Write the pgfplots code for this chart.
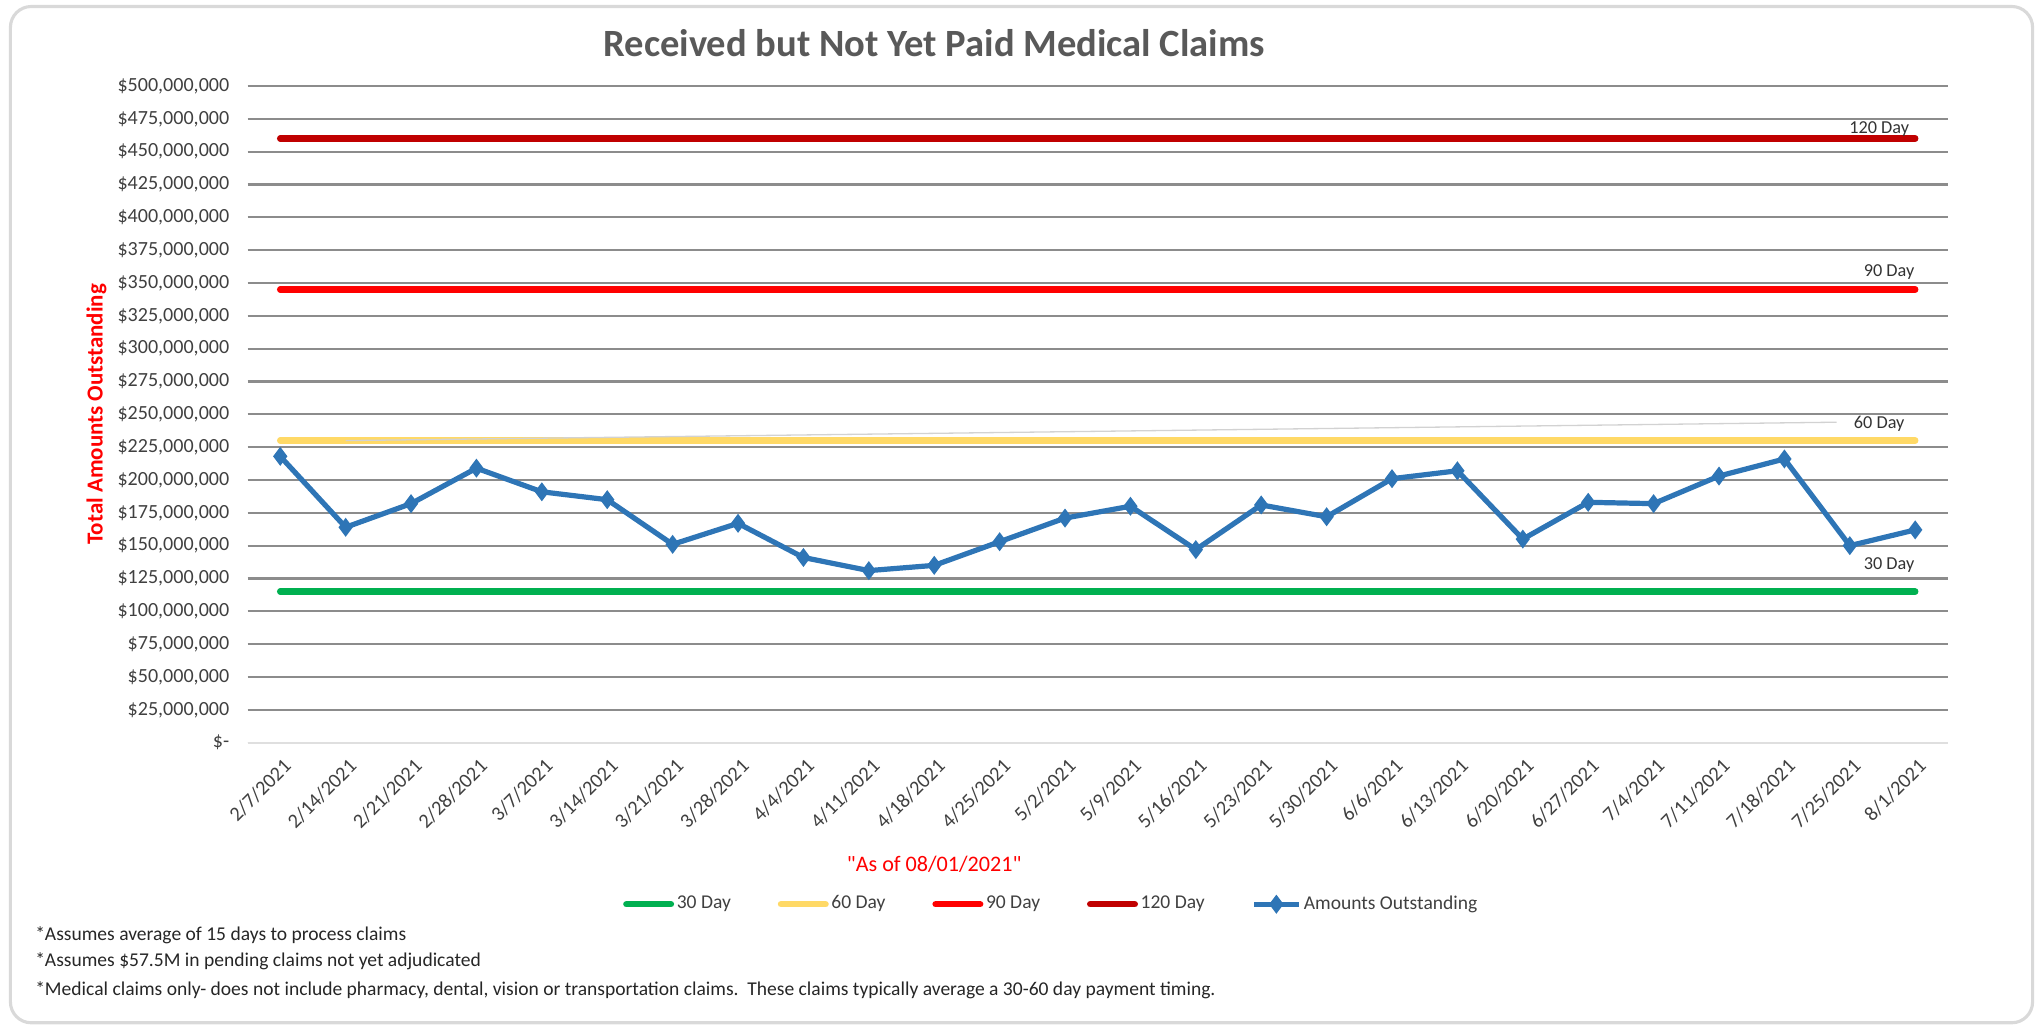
\documentclass[border=0pt]{standalone}
\usepackage{pgfplots}
\pgfplotsset{compat=1.18}
\usepackage{fontspec}
\setmainfont{Carlito}
\newfontfamily\rawfont{Carlito}[Ligatures=TeXOff]
\definecolor{cgreen}{HTML}{00B050}
\definecolor{cyellow}{HTML}{FFD966}
\definecolor{cred}{HTML}{FF0000}
\definecolor{cdred}{HTML}{C00000}
\definecolor{cblue}{HTML}{2E75B6}
\definecolor{ctitle}{HTML}{595959}
\definecolor{ctick}{HTML}{404040}
\definecolor{cgrid}{HTML}{8C8C8C}
\begin{document}
\begin{tikzpicture}[x=1pt,y=1pt]
\useasboundingbox (-95,-110) rectangle (689,285);
\draw[gray!30, line width=1.2pt, rounded corners=8pt] (-91,-107.5) rectangle (685,282.5);
\begin{axis}[
  at={(0,0)}, anchor=south west,
  scale only axis, width=652.5pt, height=252pt,
  xmin=-0.5, xmax=25.5, ymin=0, ymax=500,
  xtick={0,...,25},
  xticklabels={2/7/2021,2/14/2021,2/21/2021,2/28/2021,3/7/2021,3/14/2021,3/21/2021,3/28/2021,4/4/2021,4/11/2021,4/18/2021,4/25/2021,5/2/2021,5/9/2021,5/16/2021,5/23/2021,5/30/2021,6/6/2021,6/13/2021,6/20/2021,6/27/2021,7/4/2021,7/11/2021,7/18/2021,7/25/2021,8/1/2021},
  x tick label style={rotate=45, anchor=east, font=\fontsize{7.8}{9}\selectfont, text=ctick, yshift=-7.5pt, xshift=0pt},
  ytick={0,25,...,500},
  yticklabels={{\$-\hspace{3pt}},{\$25,000,000},{\$50,000,000},{\$75,000,000},{\$100,000,000},{\$125,000,000},{\$150,000,000},{\$175,000,000},{\$200,000,000},{\$225,000,000},{\$250,000,000},{\$275,000,000},{\$300,000,000},{\$325,000,000},{\$350,000,000},{\$375,000,000},{\$400,000,000},{\$425,000,000},{\$450,000,000},{\$475,000,000},{\$500,000,000}},
  y tick label style={font=\fontsize{7.7}{9}\selectfont, text=ctick, xshift=-3.5pt},
  ymajorgrids, major grid style={draw=cgrid, line width=0.8pt},
  axis line style={draw=none},
  tick style={draw=none},
  clip=false,
  legend columns=5,
  legend style={at={(0.216,-0.246)}, anchor=west, draw=none, fill=none,
    font=\fontsize{7.5}{8}\selectfont, text=ctick,
    nodes={inner xsep=1pt},
    /tikz/every even column/.append style={column sep=17pt},
    /tikz/every odd column/.append style={column sep=0pt}},
  legend cell align=left,
]
\draw[gray!25, line width=0.8pt] (axis cs:-0.5,0) -- (axis cs:25.5,0);
\addplot[cgreen, line width=2.5pt, line cap=round] coordinates {(0,115) (25,115)};
\addlegendentry{30 Day}
\addplot[cyellow, line width=2.5pt, line cap=round] coordinates {(0,230) (25,230)};
\addlegendentry{60 Day}
\addplot[cred, line width=2.5pt, line cap=round] coordinates {(0,345) (25,345)};
\addlegendentry{90 Day}
\addplot[cdred, line width=2.5pt, line cap=round] coordinates {(0,460) (25,460)};
\addlegendentry{120 Day}
\addplot[cblue, line width=2pt, mark=diamond*, mark size=2pt, mark options={solid}] coordinates {
(0,218) (1,164) (2,182) (3,209) (4,191) (5,185) (6,151) (7,167) (8,141) (9,131)
(10,135) (11,153) (12,171) (13,180) (14,147) (15,181) (16,172) (17,201) (18,207) (19,155)
(20,183) (21,182) (22,203) (23,216) (24,150) (25,162)};
\addlegendentry{Amounts Outstanding}
\draw[gray!35, line width=0.5pt] (axis cs:1,230) -- (axis cs:23.8,244);
\node[font=\fontsize{7}{8}\selectfont, text=black!80] at (axis cs:24.45,467) {120 Day};
\node[font=\fontsize{7}{8}\selectfont, text=black!80] at (axis cs:24.6,358) {90 Day};
\node[font=\fontsize{7}{8}\selectfont, text=black!80] at (axis cs:24.45,243) {60 Day};
\node[font=\fontsize{7}{8}\selectfont, text=black!80] at (axis cs:24.6,135) {30 Day};
\end{axis}
\node[font=\fontsize{14.8}{16}\selectfont\bfseries, text=ctitle] at (263.5,268.5) {Received but Not Yet Paid Medical Claims};
\node[rotate=90, font=\fontsize{8.8}{10}\selectfont\bfseries, text=cred] at (-58,126) {Total Amounts Outstanding};
\node[font=\fontsize{8.5}{9}\selectfont\rawfont, text=cred] at (263.5,-46.5) {"As of 08/01/2021"};
\node[anchor=west, font=\fontsize{7.5}{8}\selectfont, text=black!85] at (-85,-74) {*Assumes average of 15 days to process claims};
\node[anchor=west, font=\fontsize{7.5}{8}\selectfont, text=black!85] at (-85,-84) {*Assumes \$57.5M in pending claims not yet adjudicated};
\node[anchor=west, font=\fontsize{7.5}{8}\selectfont, text=black!85] at (-85,-95) {*Medical claims only- does not include pharmacy, dental, vision or transportation claims.\ \ These claims typically average a 30-60 day payment timing.};
\end{tikzpicture}
\end{document}
